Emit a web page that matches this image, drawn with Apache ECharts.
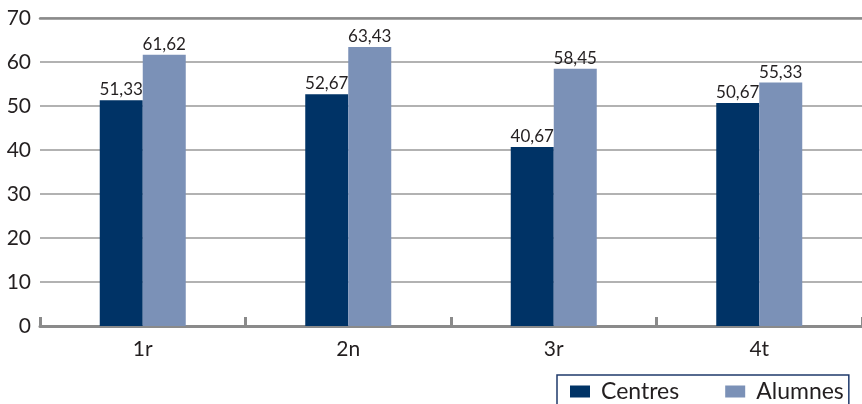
<!DOCTYPE html>
<html><head><meta charset="utf-8">
<script src="https://cdn.jsdelivr.net/npm/echarts@6/dist/echarts.min.js"></script>
<style>html,body{margin:0;padding:0;background:#fff}#c{width:862px;height:404px}</style>
</head><body><div id="c"></div>
<script>
const categories = ['1r', '2n', '3r', '4t'];
const centres = [51.33, 52.67, 40.67, 50.67];
const alumnes = [61.62, 63.43, 58.45, 55.33];
const yTicks = [0, 10, 20, 30, 40, 50, 60, 70];

const FONT = 'Lato';
const TXT = '#231F20';
const fmt = p => String(p.value.toFixed(2)).replace('.', ',');
const chart = echarts.init(document.getElementById('c'));
chart.setOption({
  animation: false,
  textStyle: { fontFamily: FONT },
  grid: { left: 40, right: 0, top: 18, bottom: 78 },
  legend: {
    left: 557, top: 375,
    data: ['Centres', 'Alumnes'],
    icon: 'rect', itemWidth: 20, itemHeight: 12, itemGap: 46,
    borderColor: '#1F3A6B', borderWidth: 1.5,
    padding: [5, 5, 20, 13],
    textStyle: { fontFamily: FONT, fontSize: 23, color: TXT, padding: [0, 0, 0, 6] }
  },
  xAxis: [{
    type: 'category', data: categories,
    axisLine: { lineStyle: { color: '#8a8a8a', width: 3 } },
    axisTick: { show: true, interval: 0, inside: true, length: 9, lineStyle: { color: '#8a8a8a', width: 3 } },
    axisLabel: { fontFamily: FONT, fontSize: 21, color: TXT, margin: 13 }
  }, {
    type: 'category', data: categories, position: 'top',
    axisLine: { lineStyle: { color: '#8a8a8a', width: 2.5 } },
    axisTick: { show: false }, axisLabel: { show: false }
  }],
  yAxis: {
    type: 'value', min: yTicks[0], max: yTicks[yTicks.length - 1], interval: 10,
    axisLine: { show: false }, axisTick: { show: false },
    axisLabel: { fontFamily: FONT, fontSize: 21, color: TXT, margin: 9 },
    splitLine: { lineStyle: { color: '#999', width: 1.5 } }
  },
  series: [{
    name: 'Centres', type: 'bar', data: centres, barWidth: 43, barGap: '0%',
    itemStyle: { color: '#003366' },
    label: { show: true, position: 'top', distance: 2, formatter: fmt, fontFamily: FONT, fontSize: 17, color: TXT }
  }, {
    name: 'Alumnes', type: 'bar', data: alumnes, barWidth: 43,
    itemStyle: { color: '#7B91B7' },
    label: { show: true, position: 'top', distance: 2, formatter: fmt, fontFamily: FONT, fontSize: 17, color: TXT }
  }]
});
</script></body></html>
